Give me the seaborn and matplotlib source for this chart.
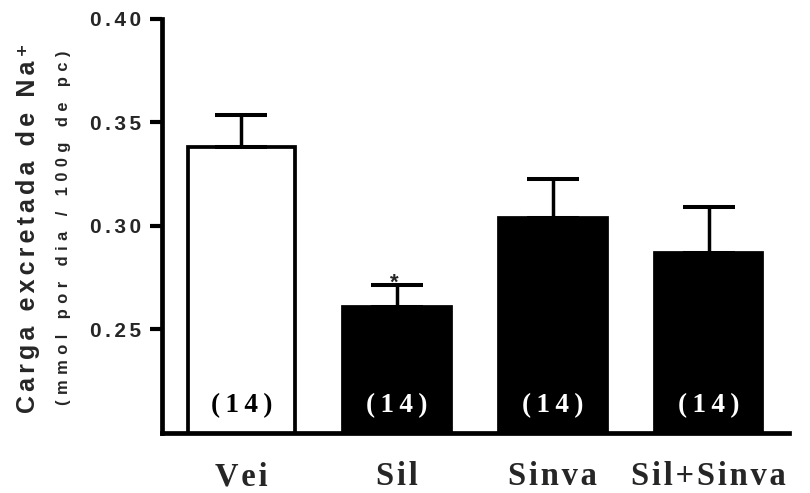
import matplotlib
matplotlib.use("Agg")
import matplotlib.pyplot as plt
import seaborn as sns

# values
groups = ["Vei", "Sil", "Sinva", "Sil+Sinva"]
means = [0.338, 0.261, 0.304, 0.287]
sems = [0.0156, 0.0106, 0.0188, 0.0222]
n_counts = ["(14)", "(14)", "(14)", "(14)"]
fills = ["white", "black", "black", "black"]
count_colors = ["black", "white", "white", "white"]
y_ticks = [0.25, 0.30, 0.35, 0.40]
y_tick_labels = ["0.25", "0.30", "0.35", "0.40"]
sig_marks = ["", "*", "", ""]

sns.set_style("ticks")
plt.rcParams["font.family"] = ["Liberation Sans", "DejaVu Sans"]
plt.rcParams["font.weight"] = "bold"

sans = ["Liberation Sans", "DejaVu Sans"]
serif = ["Liberation Serif", "DejaVu Sans"]


def spaced(s, sp):
    # crude letter spacing, Prism style
    return sp.join(s)


fig = plt.figure(figsize=(8.1, 4.93), dpi=100)
ax = fig.add_axes([0.2006, 0.1217, 0.974 - 0.2006, 0.9615 - 0.1217])

sns.barplot(x=groups, y=means, hue=groups, palette=fills, edgecolor="black",
            linewidth=2.7, width=0.69, legend=False, ax=ax, zorder=2)

ax.errorbar(range(len(groups)), means, yerr=[[0] * len(groups), sems], fmt="none",
            ecolor="black", elinewidth=2.5, capsize=18.7, capthick=2.9, zorder=3)

for i, (lab, col) in enumerate(zip(n_counts, count_colors)):
    ax.text(i, 0.2134, spaced(lab, "\u2009"), ha="center", va="center",
            color=col, fontsize=19.5, fontweight="bold", family=serif, zorder=4)

for i, mark in enumerate(sig_marks):
    if mark:
        ax.annotate(mark, xy=(i, means[i] + sems[i]), xytext=(-1.8, -2.9),
                    textcoords="offset points", ha="center", va="baseline",
                    fontsize=16, fontweight="bold", family=sans, zorder=4)

ax.set_ylim(0.20, 0.40)
ax.set_xlim(-0.507, 3.516)
ax.set_yticks(y_ticks)
ax.set_yticklabels([spaced(t, "\u2006") for t in y_tick_labels],
                   fontsize=15, fontweight="bold", family=sans)
ax.set_xticks(range(len(groups)))
ax.set_xticklabels([spaced(g, "\u200a") for g in groups],
                   fontsize=23.5, fontweight="bold", family=serif)
ax.tick_params(axis="y", length=8.6, width=3, pad=6.5, color="black")
ax.tick_params(axis="x", length=0, pad=20.5)
ax.set_xlabel("")
ax.set_ylabel("")

for side in ["top", "right"]:
    ax.spines[side].set_visible(False)
for side in ["left", "bottom"]:
    ax.spines[side].set_linewidth(3.4)
    ax.spines[side].set_color("black")

fig.text(28 / 810, 1 - 228 / 493, spaced("Carga excretada de Na\u207a", "\u2006"),
         rotation=90, ha="center", va="center", fontsize=18, fontweight="bold", family=sans)
fig.text(64 / 810, 1 - 228 / 493, spaced("(mmol por dia / 100g de pc)", "\u2004"),
         rotation=90, ha="center", va="center", fontsize=11.8, fontweight="bold", family=sans)

fig.savefig("out.png", dpi=100)
